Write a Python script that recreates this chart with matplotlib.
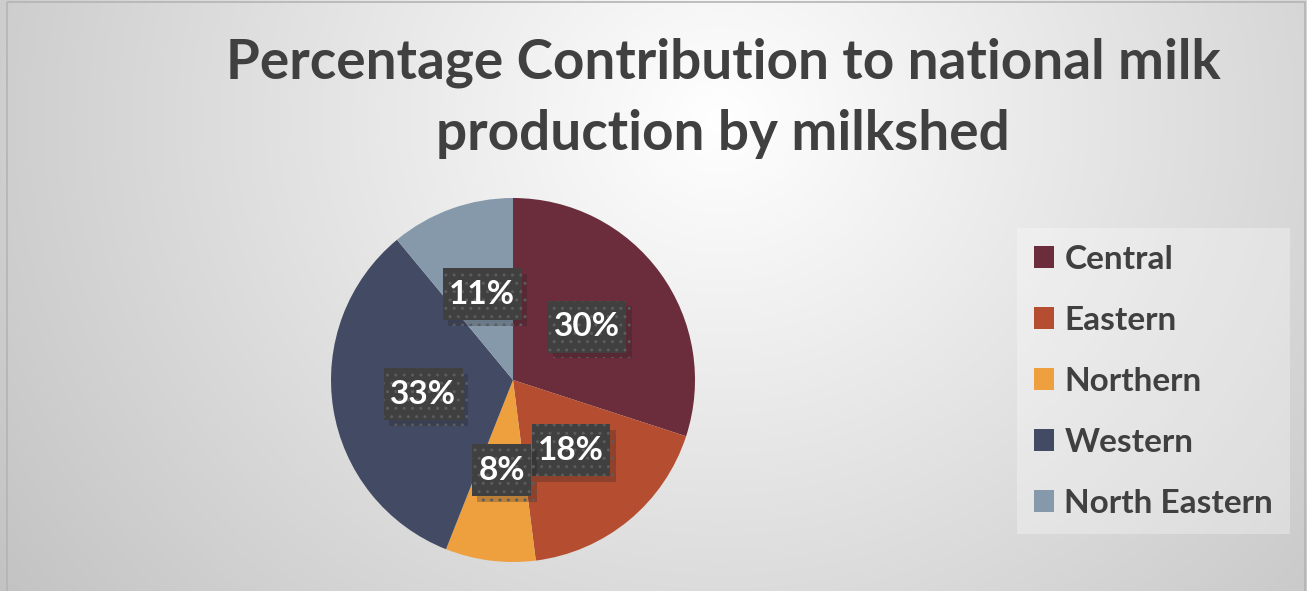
import numpy as np
import matplotlib.pyplot as plt
import matplotlib.patheffects as pe
from matplotlib.patches import Rectangle

plt.rcParams['font.family'] = ['Lato', 'DejaVu Sans']
plt.rcParams['hatch.linewidth'] = 1.0

regions = ['Central', 'Eastern', 'Northern', 'Western', 'North Eastern']
shares = [30, 18, 8, 33, 11]
colors = ['#6B2D3B', '#B54E30', '#EEA03F', '#434B64', '#8599AB']
title = 'Percentage Contribution to national milk\nproduction by milkshed'

W, H = 1307, 591
fig = plt.figure(figsize=(W / 100, H / 100), dpi=100)

# radial grey background, lightest near the title
bg = fig.add_axes([0, 0, 1, 1])
yy, xx = np.mgrid[0:H, 0:W]
d = np.hypot(xx - 720, (yy - 120) * 1.1)
shade = 1 - 0.2 * np.clip(d / 750, 0, 1.2)
bg.imshow(np.dstack([shade] * 3), extent=[0, W, H, 0], aspect='auto')
bg.add_patch(Rectangle((7, 2), W - 9, H + 5, fill=False, ec='#b4b4b4', lw=1.2))
bg.set_xlim(0, W)
bg.set_ylim(H, 0)
bg.axis('off')

fig.text(723 / W, 1 - 38 / H, title, ha='center', va='top', fontsize=39.5,
         fontweight='bold', color='#404040', linespacing=1.5)

R = 182  # pie radius in pixels
ax = fig.add_axes([(513 - R) / W, 1 - (380 + R) / H, 2 * R / W, 2 * R / H])
wedges, texts, autotexts = ax.pie(shares, colors=colors, startangle=90, counterclock=False,
                                  autopct='%d%%', pctdistance=0.5,
                                  textprops=dict(color='white', fontsize=24, fontweight='bold'))
ax.set_xlim(-1, 1)
ax.set_ylim(-1, 1)
ax.set_aspect('equal')

# dark dotted label boxes with a soft drop shadow, sized to each label
fig.canvas.draw()
renderer = fig.canvas.get_renderer()
bh = 52 / R
for t in autotexts:
    x, y = t.get_position()
    bw = (t.get_window_extent(renderer).width + 13) / R
    box = Rectangle((x - bw / 2, y - bh / 2), bw, bh, fc='#404040', ec='#5c5c5c',
                    lw=0, hatch='..', zorder=3)
    box.set_path_effects([pe.SimplePatchShadow(offset=(4, -4), shadow_rgbFace='#202020', alpha=0.25), pe.Normal()])
    ax.add_patch(box)
    t.set_zorder(4)

leg = ax.legend(wedges, regions, loc='upper left', bbox_to_anchor=(1017 / W, 1 - 228 / H),
                bbox_transform=fig.transFigure, frameon=True, fancybox=False,
                prop=dict(size=24, weight='bold'), labelcolor='#404040',
                handlelength=0.62, handleheight=0.62, handletextpad=0.3,
                labelspacing=0.96, borderpad=0.5, borderaxespad=0)
leg.get_frame().set_facecolor('white')
leg.get_frame().set_alpha(0.3)
leg.get_frame().set_linewidth(0)

fig.savefig('out.png', dpi=100)
